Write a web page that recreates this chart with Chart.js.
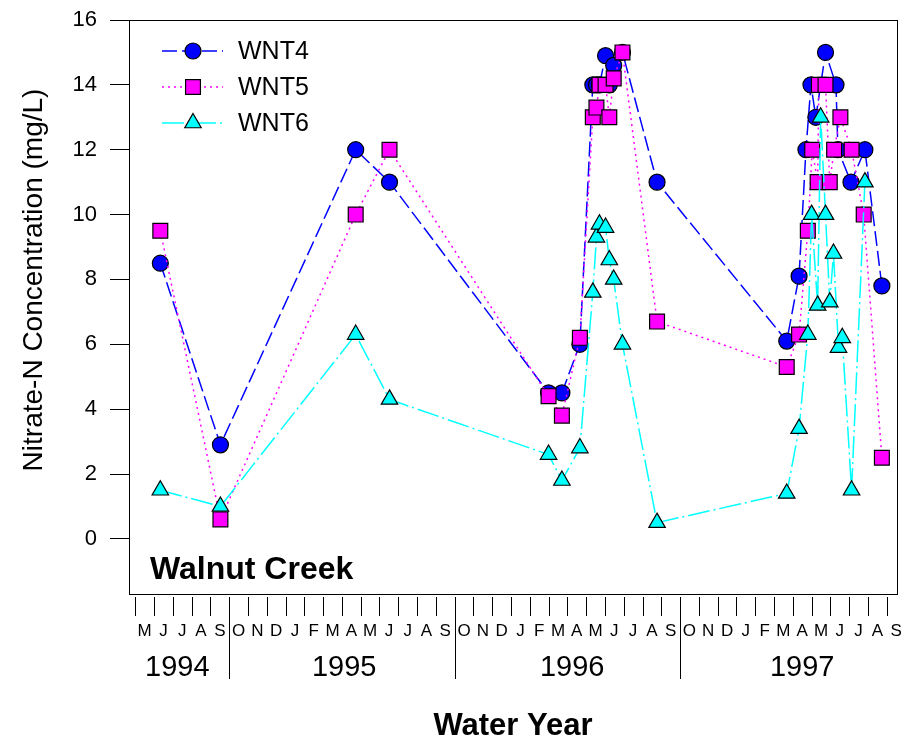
<!DOCTYPE html>
<html>
<head>
<meta charset="utf-8">
<title>Walnut Creek nitrate-N</title>
<script src="https://cdn.jsdelivr.net/npm/chart.js@4.4.1/dist/chart.umd.min.js"></script>
<style>
  html, body { margin: 0; padding: 0; background: #fff; }
  #nitrateChart { display: block; }
</style>
</head>
<body>
<canvas id="nitrateChart" width="905" height="740"></canvas>
<script>
// Sampling dates and nitrate-N (mg/L) for each well
const wnt4Dates = [
  '1994-06-11', '1994-09-17', '1995-04-23', '1995-06-17',
  '1996-03-01', '1996-03-23', '1996-04-21', '1996-05-12', '1996-05-18', '1996-05-23',
  '1996-06-02', '1996-06-08', '1996-06-15', '1996-06-29', '1996-08-25',
  '1997-03-22', '1997-04-11', '1997-04-22', '1997-04-30', '1997-05-08', '1997-05-24',
  '1997-06-10', '1997-06-13', '1997-07-04', '1997-07-27', '1997-08-24'
];
const wnt4Values = [
  8.5, 2.9, 12, 11,
  4.5, 4.5, 6.0, 14, 14, 14,
  14.9, 14, 14.6, 15, 11,
  6.1, 8.1, 12, 14, 13, 15,
  14, 12, 11, 12, 7.8
];

const wnt5Dates = [
  '1994-06-11', '1994-09-17', '1995-04-23', '1995-06-17',
  '1996-03-01', '1996-03-23', '1996-04-21', '1996-05-12', '1996-05-18', '1996-05-23',
  '1996-06-02', '1996-06-08', '1996-06-15', '1996-06-29', '1996-08-25',
  '1997-03-22', '1997-04-11', '1997-04-25', '1997-05-02', '1997-05-11', '1997-05-13',
  '1997-05-24', '1997-05-31', '1997-06-07', '1997-06-17', '1997-07-05', '1997-07-25',
  '1997-08-24'
];
const wnt5Values = [
  9.5, 0.6, 10, 12,
  4.4, 3.8, 6.2, 13, 13.3, 14,
  14, 13, 14.2, 15, 6.7,
  5.3, 6.3, 9.5, 12, 11, 14,
  14, 11, 12, 13, 12, 10,
  2.5
];

const wnt6Dates = [
  '1994-06-11', '1994-09-17', '1995-04-23', '1995-06-17',
  '1996-03-01', '1996-03-23', '1996-04-21', '1996-05-12', '1996-05-18', '1996-05-23',
  '1996-06-02', '1996-06-08', '1996-06-15', '1996-06-29', '1996-08-25',
  '1997-03-22', '1997-04-11', '1997-04-25', '1997-05-01', '1997-05-11', '1997-05-16',
  '1997-05-24', '1997-05-31', '1997-06-06', '1997-06-14', '1997-06-20', '1997-07-05',
  '1997-07-27'
];
const wnt6Values = [
  1.5, 1.0, 6.3, 4.3,
  2.6, 1.8, 2.8, 7.6, 9.3, 9.7,
  9.6, 8.6, 8.0, 6.0, 0.5,
  1.4, 3.4, 6.3, 10, 7.2, 13,
  10, 7.3, 8.8, 5.9, 6.2, 1.5,
  11
];

const yTicks = [0, 2, 4, 6, 8, 10, 12, 14, 16];
const monthLetters = ['J', 'F', 'M', 'A', 'M', 'J', 'J', 'A', 'S', 'O', 'N', 'D'];
const yearLabels = ['1994', '1995', '1996', '1997'];

const FONT = "'Liberation Sans', Arial, Helvetica, sans-serif";

// x runs in months counted from 1 May 1994
function monthPos(iso) {
  const [y, m, d] = iso.split('-').map(Number);
  const days = new Date(y, m, 0).getDate();
  return (y - 1994) * 12 + (m - 5) + (d - 1) / days;
}

const toPoints = (dates, values) => dates.map((d, i) => ({ x: monthPos(d), y: values[i] }));

// month ticks, month letters, water-year separators and year labels
const yearLabelAt = [2.24, 11.12, 23.26, 35.5];
const monthCount = 41;

const decorations = {
  id: 'decorations',
  beforeDatasetsDraw(chart) {
    const { ctx, chartArea: a } = chart;
    ctx.save();
    ctx.strokeStyle = '#000';
    ctx.lineWidth = 1;
    ctx.strokeRect(a.left + 0.5, a.top + 0.5, a.right - a.left - 1, a.bottom - a.top);
    ctx.restore();
  },
  afterDraw(chart) {
    const { ctx, chartArea: a, scales: { x } } = chart;
    ctx.save();
    ctx.strokeStyle = '#000';
    ctx.lineWidth = 1;
    ctx.beginPath();
    for (let k = 0; k < monthCount; k++) {
      const px = Math.round(x.getPixelForValue(k)) + 0.5;
      const yearBreak = (k - 5) % 12 === 0;
      ctx.moveTo(px, a.bottom + 3);
      ctx.lineTo(px, yearBreak ? a.bottom + 85 : a.bottom + 22);
    }
    ctx.stroke();

    ctx.fillStyle = '#000';
    ctx.textAlign = 'center';
    ctx.textBaseline = 'middle';
    ctx.font = `17px ${FONT}`;
    for (let k = 0; k < monthCount; k++) {
      ctx.fillText(monthLetters[(k + 4) % 12], x.getPixelForValue(k + 0.5), 631);
    }
    ctx.font = `29px ${FONT}`;
    yearLabels.forEach((lbl, i) => ctx.fillText(lbl, x.getPixelForValue(yearLabelAt[i]), 668));

    ctx.font = `bold 31px ${FONT}`;
    ctx.fillText('Water Year', 513, 726);

    ctx.font = `bold 32px ${FONT}`;
    ctx.textAlign = 'left';
    ctx.textBaseline = 'alphabetic';
    ctx.fillText('Walnut Creek', 150, 579);

    // y axis title
    ctx.save();
    ctx.translate(34, 280);
    ctx.rotate(-Math.PI / 2);
    ctx.textAlign = 'center';
    ctx.textBaseline = 'middle';
    ctx.font = `28px ${FONT}`;
    ctx.fillText('Nitrate-N Concentration (mg/L)', 0, 0);
    ctx.restore();

    // legend: line sample with marker, then the series name
    chart.data.datasets.forEach((ds, i) => {
      const ly = 51 + i * 36;
      ctx.save();
      ctx.strokeStyle = ds.borderColor;
      ctx.lineWidth = ds.borderWidth;
      ctx.setLineDash(ds.borderDash);
      ctx.beginPath();
      ctx.moveTo(162, ly);
      ctx.lineTo(223, ly);
      ctx.stroke();
      ctx.setLineDash([]);
      ctx.fillStyle = ds.pointBackgroundColor;
      ctx.strokeStyle = ds.pointBorderColor;
      ctx.lineWidth = ds.pointBorderWidth;
      Chart.helpers.drawPoint(ctx, {
        pointStyle: ds.pointStyle, radius: ds.pointRadius, borderWidth: ds.pointBorderWidth, rotation: 0
      }, 193, ly);
      ctx.restore();
      ctx.fillStyle = '#000';
      ctx.font = `25px ${FONT}`;
      ctx.textBaseline = 'middle';
      ctx.fillText(ds.label, 238, ly + 1);
    });
    ctx.restore();
  }
};

const ctx = document.getElementById('nitrateChart').getContext('2d');
new Chart(ctx, {
  type: 'line',
  data: {
    datasets: [
      {
        label: 'WNT4',
        data: toPoints(wnt4Dates, wnt4Values),
        borderColor: '#0000ff',
        borderWidth: 1.5,
        borderDash: [15, 5],
        pointStyle: 'circle',
        pointRadius: 8,
        pointBackgroundColor: '#0000ff',
        pointBorderColor: '#000',
        pointBorderWidth: 1.2,
        order: 3
      },
      {
        label: 'WNT5',
        data: toPoints(wnt5Dates, wnt5Values),
        borderColor: '#ff00ff',
        borderWidth: 1.5,
        borderDash: [2, 4],
        pointStyle: 'rect',
        pointRadius: 10.5,
        pointBackgroundColor: '#ff00ff',
        pointBorderColor: '#000',
        pointBorderWidth: 1.2,
        order: 2
      },
      {
        label: 'WNT6',
        data: toPoints(wnt6Dates, wnt6Values),
        borderColor: '#00ffff',
        borderWidth: 1.5,
        borderDash: [22, 4, 2, 4],
        pointStyle: 'triangle',
        pointRadius: 9.5,
        pointBackgroundColor: '#00ffff',
        pointBorderColor: '#000',
        pointBorderWidth: 1.2,
        order: 1
      }
    ]
  },
  options: {
    responsive: false,
    animation: false,
    devicePixelRatio: 1,
    events: [],
    layout: { autoPadding: false, padding: { top: 20, right: 7, bottom: 146, left: 0 } },
    elements: { line: { tension: 0 } },
    scales: {
      x: {
        type: 'linear',
        min: monthPos('1994-04-21'),
        max: monthPos('1997-09-19'),
        display: false
      },
      y: {
        min: -1.7,
        max: 16,
        afterFit: scale => {
          scale.width = 129;
          scale.paddingTop = 0;
          scale.paddingBottom = 0;
        },
        afterBuildTicks: scale => { scale.ticks = yTicks.map(v => ({ value: v })); },
        grid: { drawOnChartArea: false, drawTicks: true, tickLength: 19, color: '#000' },
        border: { display: true, color: '#000', width: 1 },
        ticks: { color: '#000', padding: 13, font: { size: 22, family: FONT } }
      }
    },
    plugins: {
      legend: { display: false },
      tooltip: { enabled: false }
    }
  },
  plugins: [decorations]
});
</script>
</body>
</html>
